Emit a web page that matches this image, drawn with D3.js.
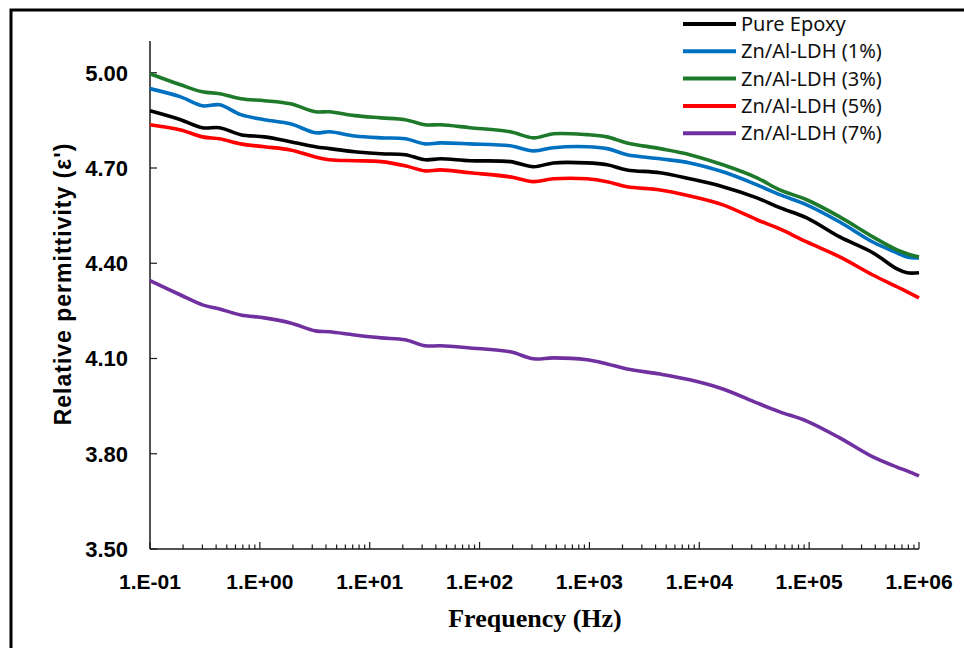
<!DOCTYPE html>
<html>
<head>
<meta charset="utf-8">
<script src="https://cdn.jsdelivr.net/npm/d3@7/dist/d3.min.js"></script>
<style>
  html, body { margin: 0; padding: 0; background: #fff; }
  svg { display: block; }
</style>
</head>
<body>
<svg id="chart" width="964" height="648"></svg>
<script>
// Frequency sweep (Hz)
const frequency = [0.1, 0.19, 0.3, 0.43, 0.67, 1.1, 1.9, 3.2, 4.3, 7.3, 12.7, 21, 32, 44, 82, 190,
  310, 470, 950, 1450, 2200, 4400, 8200, 16400, 33500, 54000, 95000, 190000, 380000, 630000, 780000, 1000000];

// Relative permittivity for each formulation
const pureEpoxy = [4.880, 4.852, 4.827, 4.827, 4.805, 4.798, 4.783, 4.767, 4.761, 4.751, 4.745, 4.742, 4.726, 4.729, 4.723, 4.720,
  4.704, 4.716, 4.716, 4.710, 4.694, 4.685, 4.666, 4.641, 4.606, 4.575, 4.543, 4.483, 4.433, 4.382, 4.370, 4.370];
const ldh1 = [4.950, 4.924, 4.896, 4.899, 4.868, 4.852, 4.839, 4.811, 4.814, 4.801, 4.795, 4.792, 4.776, 4.779, 4.776, 4.770,
  4.754, 4.764, 4.767, 4.761, 4.742, 4.729, 4.716, 4.688, 4.647, 4.616, 4.584, 4.530, 4.467, 4.433, 4.420, 4.417];
const ldh3 = [4.997, 4.962, 4.940, 4.934, 4.918, 4.912, 4.902, 4.877, 4.877, 4.865, 4.858, 4.852, 4.836, 4.836, 4.827, 4.814,
  4.795, 4.808, 4.805, 4.798, 4.779, 4.761, 4.742, 4.710, 4.669, 4.631, 4.600, 4.546, 4.483, 4.442, 4.430, 4.420];
const ldh5 = [4.836, 4.820, 4.798, 4.792, 4.776, 4.767, 4.757, 4.735, 4.726, 4.723, 4.720, 4.707, 4.691, 4.694, 4.685, 4.672,
  4.657, 4.666, 4.666, 4.657, 4.641, 4.631, 4.612, 4.584, 4.537, 4.508, 4.467, 4.420, 4.363, 4.326, 4.310, 4.291];
const ldh7 = [4.345, 4.300, 4.269, 4.256, 4.237, 4.228, 4.212, 4.187, 4.184, 4.174, 4.165, 4.159, 4.140, 4.140, 4.133, 4.121,
  4.099, 4.102, 4.096, 4.083, 4.067, 4.051, 4.033, 4.004, 3.960, 3.932, 3.903, 3.850, 3.790, 3.758, 3.746, 3.730];

const seriesNames = ["Pure Epoxy", "Zn/Al-LDH (1%)", "Zn/Al-LDH (3%)", "Zn/Al-LDH (5%)", "Zn/Al-LDH (7%)"];
const seriesValues = [pureEpoxy, ldh1, ldh3, ldh5, ldh7];
const seriesColors = ["#000000", "#0070C0", "#1E7A2A", "#FF0000", "#7030A0"];

const xTickValues = [1e-1, 1e0, 1e1, 1e2, 1e3, 1e4, 1e5, 1e6];
const xTickLabels = ["1.E-01", "1.E+00", "1.E+01", "1.E+02", "1.E+03", "1.E+04", "1.E+05", "1.E+06"];
const yTickValues = [3.5, 3.8, 4.1, 4.4, 4.7, 5.0];
const yDomain = [3.5, 5.1];

const svg = d3.select("#chart");

// Outer frame
svg.append("rect")
  .attr("x", 11).attr("y", 10)
  .attr("width", 1000).attr("height", 700)
  .attr("fill", "none").attr("stroke", "#000").attr("stroke-width", 3);

const plot = { left: 150, right: 919, top: 41, bottom: 549 };

const x = d3.scaleLog().domain([1e-1, 1e6]).range([plot.left, plot.right]);
const y = d3.scaleLinear().domain(yDomain).range([plot.bottom, plot.top]);

const axisColor = "#1a1a1a";

// Minor ticks on the log axis (2..9 per decade)
const minorTicks = [];
for (let e = -1; e < 6; e++) {
  for (let m = 2; m <= 9; m++) minorTicks.push(m * Math.pow(10, e));
}

// X axis: ticks pointing into the plot
const xAxisG = svg.append("g").attr("transform", `translate(0,${plot.bottom})`);
xAxisG.append("line")
  .attr("x1", plot.left).attr("x2", plot.right)
  .attr("stroke", axisColor).attr("stroke-width", 1.5);
xAxisG.selectAll("line.minor").data(minorTicks).join("line")
  .attr("class", "minor")
  .attr("x1", d => x(d)).attr("x2", d => x(d))
  .attr("y1", 0).attr("y2", -4.5)
  .attr("stroke", axisColor).attr("stroke-width", 1.2);
xAxisG.selectAll("line.major").data(xTickValues).join("line")
  .attr("class", "major")
  .attr("x1", d => x(d)).attr("x2", d => x(d))
  .attr("y1", 0).attr("y2", -7)
  .attr("stroke", axisColor).attr("stroke-width", 1.2);
xAxisG.selectAll("text").data(xTickValues).join("text")
  .attr("x", d => x(d)).attr("y", 40)
  .attr("text-anchor", "middle")
  .attr("font-family", "'Liberation Sans', Arial, sans-serif")
  .attr("font-weight", "bold").attr("font-size", 21)
  .attr("fill", "#000")
  .text((d, i) => xTickLabels[i]);

// Y axis: ticks pointing into the plot
const yAxisG = svg.append("g").attr("transform", `translate(${plot.left},0)`);
yAxisG.append("line")
  .attr("y1", plot.top).attr("y2", plot.bottom)
  .attr("stroke", axisColor).attr("stroke-width", 1.5);
yAxisG.selectAll("line.tick").data(yTickValues).join("line")
  .attr("class", "tick")
  .attr("x1", 0).attr("x2", 7)
  .attr("y1", d => y(d)).attr("y2", d => y(d))
  .attr("stroke", axisColor).attr("stroke-width", 1.2);
yAxisG.selectAll("text").data(yTickValues).join("text")
  .attr("x", -22).attr("y", d => y(d))
  .attr("dy", "0.36em")
  .attr("text-anchor", "end")
  .attr("font-family", "'Liberation Sans', Arial, sans-serif")
  .attr("font-weight", "bold").attr("font-size", 22)
  .attr("fill", "#000")
  .text(d => d3.format(".2f")(d));

// Axis titles
svg.append("text")
  .attr("transform", "translate(71,284) rotate(-90)")
  .attr("text-anchor", "middle")
  .attr("font-family", "'Liberation Sans', Arial, sans-serif")
  .attr("font-weight", "bold").attr("font-size", 23)
  .attr("letter-spacing", 1)
  .attr("fill", "#000")
  .text("Relative permittivity (ε')");

svg.append("text")
  .attr("x", 535).attr("y", 627)
  .attr("text-anchor", "middle")
  .attr("font-family", "'Liberation Serif', 'Times New Roman', serif")
  .attr("font-weight", "bold").attr("font-size", 26)
  .attr("fill", "#000")
  .text("Frequency (Hz)");

// Series lines
const line = d3.line()
  .x(d => x(d[0]))
  .y(d => y(d[1]))
  .curve(d3.curveCatmullRom.alpha(0.5));

seriesValues.forEach((vals, i) => {
  svg.append("path")
    .datum(frequency.map((f, j) => [f, vals[j]]))
    .attr("fill", "none")
    .attr("stroke", seriesColors[i])
    .attr("stroke-width", 3.6)
    .attr("stroke-linejoin", "round")
    .attr("stroke-linecap", "butt")
    .attr("d", line);
});

// Legend
const legend = svg.append("g").attr("transform", "translate(683,24)");
const rowGap = 27.3;
seriesNames.forEach((name, i) => {
  const row = legend.append("g").attr("transform", `translate(0,${i * rowGap})`);
  row.append("line")
    .attr("x1", 0).attr("x2", 53)
    .attr("stroke", seriesColors[i]).attr("stroke-width", 4);
  row.append("text")
    .attr("x", 58).attr("dy", "0.35em")
    .attr("font-family", "'Noto Sans', 'Open Sans', sans-serif")
    .attr("font-size", 20)
    .attr("fill", "#111")
    .text(name);
});
</script>
</body>
</html>
